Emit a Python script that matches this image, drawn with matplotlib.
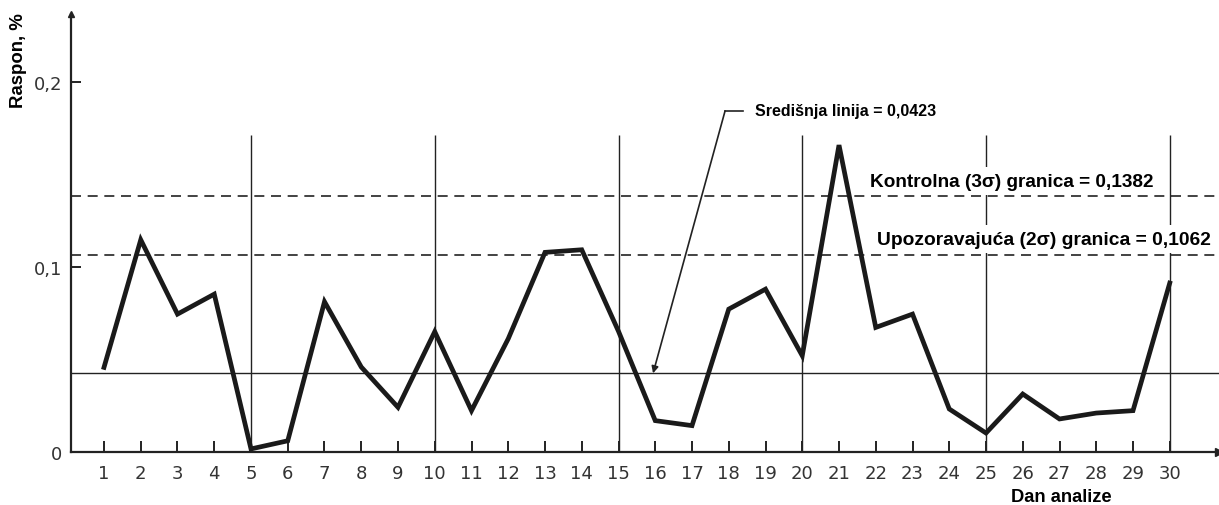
import matplotlib
matplotlib.use("Agg")
from matplotlib import pyplot as plt

# daily range values
days = list(range(1, 31))
ranges = [0.0455, 0.1145, 0.0743, 0.0851, 0.0014, 0.0058, 0.0810, 0.0457, 0.0239, 0.0648,
          0.0221, 0.0610, 0.1077, 0.1091, 0.0650, 0.0167, 0.0140, 0.0770, 0.0878, 0.0518,
          0.1657, 0.0671, 0.0743, 0.0230, 0.0100, 0.0311, 0.0176, 0.0208, 0.0221, 0.0911]

center_line = 0.0423
control_limit = 0.1382
warning_limit = 0.1062

grid_days = [5, 10, 15, 20, 25, 30]
grid_top = 0.171

y_ticks = [0, 0.1, 0.2]
y_tick_labels = ["0", "0,1", "0,2"]

fig = plt.figure(figsize=(12.19, 5.06), dpi=100)
ax = fig.add_axes([0.058, 0.1057, 0.942, 0.8643])

ax.set_xlim(0.094, 31.34)
ax.set_ylim(0, 0.2365)

for side in ("top", "right"):
    ax.spines[side].set_visible(False)
for side in ("left", "bottom"):
    ax.spines[side].set_linewidth(1.6)
    ax.spines[side].set_color("#222222")

# arrow heads at the ends of the axes
ax.plot(1, 0, ">", color="#222222", markersize=6, transform=ax.transAxes, clip_on=False)
ax.plot(0, 1, "^", color="#222222", markersize=5, transform=ax.transAxes, clip_on=False)

ax.vlines(grid_days, 0, grid_top, color="#222222", linewidth=1.0, zorder=1)

ax.axhline(center_line, color="#222222", linewidth=1.0, zorder=1)
ax.axhline(control_limit, color="#222222", linewidth=1.2, linestyle=(0, (6, 4)), zorder=1)
ax.axhline(warning_limit, color="#222222", linewidth=1.2, linestyle=(0, (6, 4)), zorder=1)

ax.plot(days, ranges, color="#1a1a1a", linewidth=3.4, solid_joinstyle="miter", zorder=3)

ax.set_xticks(days)
ax.set_xticklabels([str(d) for d in days])
ax.set_yticks(y_ticks)
ax.set_yticklabels(y_tick_labels)
ax.tick_params(axis="x", direction="in", length=8, width=1.4, pad=9,
               labelsize=13, labelcolor="#333333", color="#222222")
ax.tick_params(axis="y", direction="in", length=7, width=1.4, pad=6,
               labelsize=13, labelcolor="#333333", color="#222222")

fig.text(0.015, 0.881, "Raspon, %", rotation=90, ha="center", va="center",
         fontsize=13.4, fontweight="bold", family="Liberation Sans")
fig.text(0.871, 0.016, "Dan analize", ha="center", va="center",
         fontsize=13.2, fontweight="bold", family="Liberation Sans")

# white boxes break the vertical lines behind the labels
label_box = dict(facecolor="white", edgecolor="none", pad=4)
ax.text(21.84, 0.1462, "Kontrolna (3σ) granica = 0,1382", ha="left", va="center",
        fontsize=13.7, fontweight="bold", family="Liberation Sans", bbox=label_box, zorder=2)
ax.text(22.03, 0.1149, "Upozoravajuća (2σ) granica = 0,1062", ha="left", va="center",
        fontsize=13.9, fontweight="bold", family="Liberation Sans", bbox=label_box, zorder=2)

# leader for the central line label
ax.plot([17.90, 18.39], [0.1842, 0.1842], color="#222222", linewidth=1.2)
ax.annotate("", xy=(15.94, center_line), xytext=(17.90, 0.1842),
            arrowprops=dict(arrowstyle="-|>", color="#222222", lw=1.2,
                            mutation_scale=10, shrinkA=0, shrinkB=0))
ax.text(18.71, 0.1842, "Središnja linija = 0,0423", ha="left", va="center",
        fontsize=11.5, fontweight="bold", family="Liberation Sans")

fig.savefig("out.png", dpi=100, facecolor="white")
